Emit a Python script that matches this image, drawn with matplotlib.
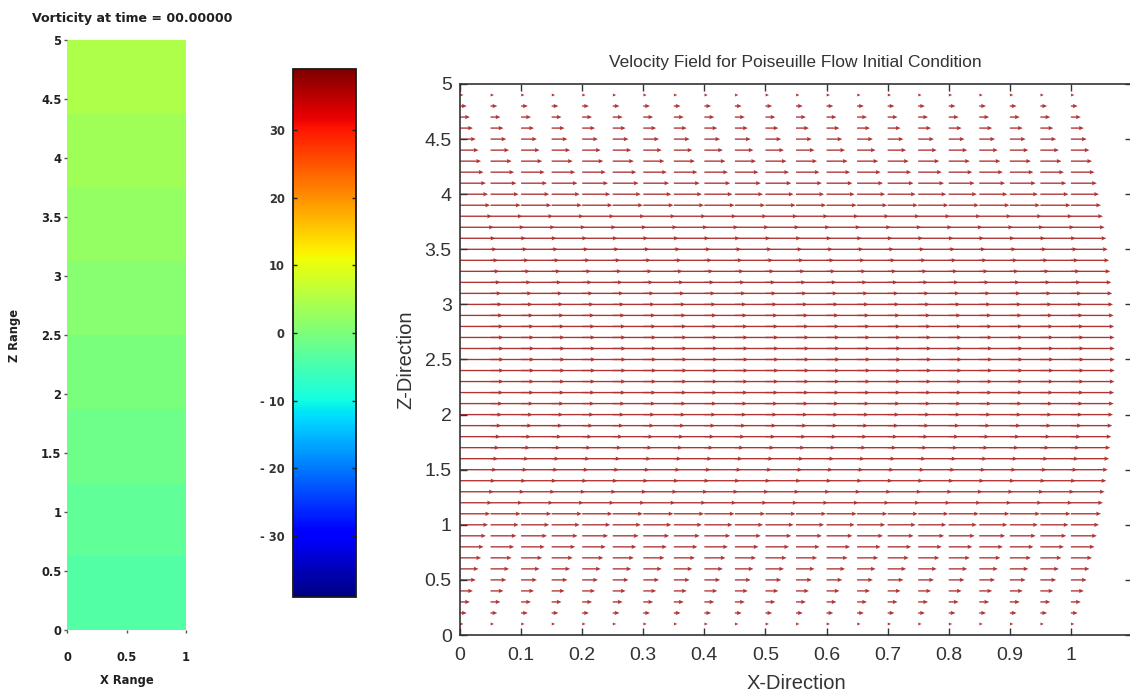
import numpy as np
import matplotlib
matplotlib.use("Agg")
import matplotlib.pyplot as plt

# ---------------- data ----------------
# sampling grid of the velocity field
x_samples = np.linspace(0.0, 1.0, 21)
z_samples = np.linspace(0.0, 5.0, 51)

# streamwise velocity for each z row (bottom -> top); vertical velocity is zero
u_profile = [0.00, 0.49, 0.96, 1.41, 1.84, 2.25, 2.64, 3.01, 3.36, 3.69,
             4.00, 4.29, 4.56, 4.81, 5.04, 5.25, 5.44, 5.61, 5.76, 5.89,
             6.00, 6.09, 6.16, 6.21, 6.24, 6.25, 6.24, 6.21, 6.16, 6.09,
             6.00, 5.89, 5.76, 5.61, 5.44, 5.25, 5.04, 4.81, 4.56, 4.29,
             4.00, 3.69, 3.36, 3.01, 2.64, 2.25, 1.84, 1.41, 0.96, 0.49, 0.00]

# vorticity field (one value per horizontal band, bottom -> top)
vort_x_edges = [0.0, 1.0]
vort_z_edges = [0.0, 0.625, 1.25, 1.875, 2.5, 3.125, 3.75, 4.375, 5.0]
vorticity = [-3.9, -2.7, -1.4, -0.2, 1.0, 2.2, 3.5, 4.7]

color_limits = (-39.0, 39.0)
cbar_ticks = [-30, -20, -10, 0, 10, 20, 30]
cbar_labels = ["- 30", "- 20", "- 10", "0", "10", "20", "30"]

left_xticks = [0, 0.5, 1]
left_xticklabels = ["0", "0.5", "1"]
left_yticks = [0, 0.5, 1, 1.5, 2, 2.5, 3, 3.5, 4, 4.5, 5]
left_yticklabels = ["0", "0.5", "1", "1.5", "2", "2.5", "3", "3.5", "4", "4.5", "5"]

main_xticks = [0, 0.1, 0.2, 0.3, 0.4, 0.5, 0.6, 0.7, 0.8, 0.9, 1.0]
main_xticklabels = ["0", "0.1", "0.2", "0.3", "0.4", "0.5", "0.6", "0.7", "0.8", "0.9", "1"]
main_yticks = left_yticks
main_yticklabels = left_yticklabels

# ---------------- figure ----------------
W, H = 1130, 694
fig = plt.figure(figsize=(W / 100, H / 100), dpi=100)
fig.patch.set_facecolor("white")


def px_axes(left, top, right, bottom):
    """Axes rectangle given in pixel coordinates (origin top-left)."""
    return fig.add_axes([left / W, (H - bottom) / H, (right - left) / W, (bottom - top) / H])


small_font = dict(family="DejaVu Sans", weight="bold", size=8.3)
ink = "#202020"

# --- vorticity panel ---
ax1 = px_axes(67, 40, 186, 630)
mesh = ax1.pcolormesh(vort_x_edges, vort_z_edges, np.array(vorticity)[:, None],
                      cmap="jet", vmin=color_limits[0], vmax=color_limits[1],
                      shading="flat")
ax1.set_xlim(0, 1)
ax1.set_ylim(0, 5)
for s in ax1.spines.values():
    s.set_visible(False)
ax1.set_xticks(left_xticks)
ax1.set_xticklabels(left_xticklabels, fontdict=small_font, color=ink)
ax1.set_yticks(left_yticks)
ax1.set_yticklabels(left_yticklabels, fontdict=small_font, color=ink)
ax1.tick_params(axis="both", direction="out", length=2, width=1, color="#555555")
ax1.tick_params(axis="x", pad=13)
ax1.tick_params(axis="y", pad=2)
ax1.set_xlabel("X Range", fontdict=small_font, color=ink)
ax1.set_ylabel("Z Range", fontdict=small_font, color=ink)
ax1.xaxis.set_label_coords(0.5, -0.075)
ax1.yaxis.set_label_coords(-0.39, 0.5)
ax1.set_title("Vorticity at time = 00.00000", family="DejaVu Sans", weight="bold",
              size=9.1, color=ink, x=0.546, y=1.03, pad=0)

# --- colour bar ---
cax = px_axes(293, 69, 356, 597)
cbar = fig.colorbar(mesh, cax=cax)
cbar.set_ticks(cbar_ticks)
cbar.set_ticklabels(cbar_labels)
cax.yaxis.set_ticks_position("both")
cax.tick_params(axis="y", direction="in", length=3, width=1, color="#222222",
                labelleft=True, labelright=False, pad=6)
for lab in cax.get_yticklabels():
    lab.set_fontproperties(matplotlib.font_manager.FontProperties(**small_font))
    lab.set_color("#333333")
cbar.outline.set_edgecolor("#1a1a1a")
cbar.outline.set_linewidth(1.3)

# --- velocity field ---
ax2 = px_axes(460, 84, 1132, 635)
X, Z = np.meshgrid(x_samples, z_samples)
U = np.repeat(np.array(u_profile)[:, None], len(x_samples), axis=1)
V = np.zeros_like(U)
ax2.quiver(X, Z, U, V, color="#b03434", angles="xy", scale_units="xy", scale=87,
           units="dots", width=1.35, headwidth=3.2, headlength=3.6,
           headaxislength=3.2, minshaft=1, minlength=0, pivot="tail")
ax2.set_xlim(0, 1.1)
ax2.set_ylim(0, 5)

main_font = dict(family="Liberation Sans", size=14)
ax2.set_xticks(main_xticks)
ax2.set_xticklabels(main_xticklabels, fontdict=main_font, color="#333333")
ax2.set_yticks(main_yticks)
ax2.set_yticklabels(main_yticklabels, fontdict=main_font, color="#333333")
ax2.tick_params(axis="both", direction="in", length=5, width=1, color="#333333",
                top=True, right=True)
ax2.tick_params(axis="x", pad=9)
ax2.tick_params(axis="y", pad=6)
for s in ax2.spines.values():
    s.set_color("#333333")
    s.set_linewidth(1.2)
ax2.set_xlabel("X-Direction", family="Liberation Sans", size=14.5, color="#333333")
ax2.set_ylabel("Z-Direction", family="Liberation Sans", size=14.5, color="#333333")
ax2.xaxis.set_label_coords(0.5, -0.07)
ax2.yaxis.set_label_coords(-0.067, 0.5)
ax2.set_title("Velocity Field for Poiseuille Flow Initial Condition",
              family="Liberation Sans", size=12.5, color="#333333",
              x=(795 - 460) / 672, y=1.03, pad=0)

fig.savefig("out.png", dpi=100)
